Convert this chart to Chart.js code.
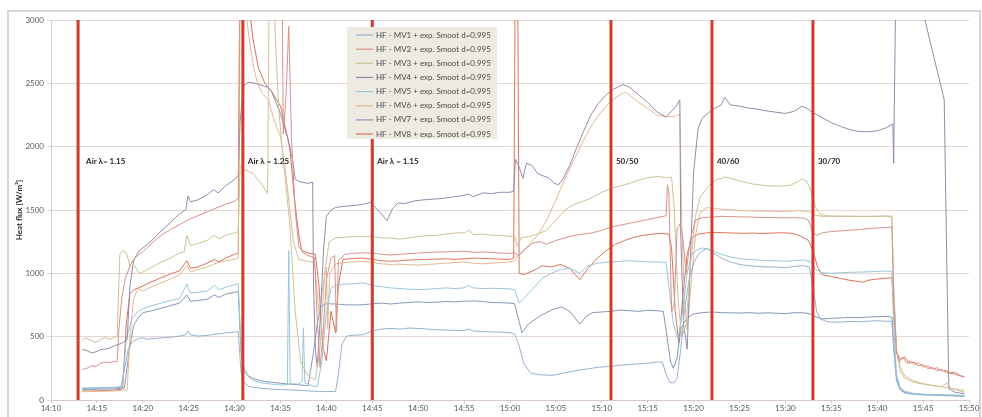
<!DOCTYPE html>
<html><head><meta charset="utf-8">
<style>html,body{margin:0;padding:0;background:#fff;overflow:hidden}canvas{display:block}</style>
<script src="https://cdn.jsdelivr.net/npm/chart.js@4.4.1/dist/chart.umd.min.js"></script>
</head><body>
<canvas id="c" width="982" height="417"></canvas>
<script>
// time axis: minutes after 14:00
const xTickLabels = ['14:10','14:15','14:20','14:25','14:30','14:35','14:40','14:45','14:50','14:55','15:00','15:05','15:10','15:15','15:20','15:25','15:30','15:35','15:40','15:45','15:50'];
const yTickLabels = ['0','500','1000','1500','2000','2500','3000'];
const seriesNames = ['HF - MV1 + exp. Smoot d=0.995','HF - MV2 + exp. Smoot d=0.995','HF - MV3 + exp. Smoot d=0.995','HF - MV4 + exp. Smoot d=0.995','HF - MV5 + exp. Smoot d=0.995','HF - MV6 + exp. Smoot d=0.995','HF - MV7 + exp. Smoot d=0.995','HF - MV8 + exp. Smoot d=0.995'];
const seriesColors = ['#98b2d2','#d9928a','#cdc398','#9789ad','#98c7da','#e3b993','#8898b6','#dc735a'];
const phaseTimes = [12.95, 30.9, 45, 71, 82, 93];
const phaseLabels = ['Air λ= 1.15','Air λ = 1.25','Air λ = 1.15','50/50','40/60','30/70'];
const phaseLabelLevel = 1880;

const mv1 = [[13.4,90],[14,88],[15,92],[16,95],[17,98],[17.6,100],[18,240],[18.4,400],[18.9,460],[19.5,485],[20,490],[20.5,480],[21,485],[22,490],[23,495],[24,505],[24.7,515],[24.9,545],[25.2,515],[26,505],[27,510],[28,520],[28.7,525],[29,530],[30,535],[30.4,540],[30.7,220],[31,140],[31.5,110],[32,100],[33,92],[34,86],[35,82],[36,80],[37,76],[38,72],[39,68],[40,66],[41,68],[41.3,200],[41.7,440],[42.2,505],[43,512],[44,515],[45,545],[46,560],[47,565],[48,560],[49,568],[50,565],[51,560],[52,555],[53,552],[54,550],[55,548],[55.5,560],[56,545],[57,540],[58,538],[59,535],[60,532],[60.5,520],[60.9,450],[61.5,290],[62.2,215],[63,200],[64.7,195],[66,215],[67.6,237],[69.8,260],[71,265],[72,275],[73,280],[74,285],[75,290],[76,300],[76.6,300],[77,200],[77.4,140],[77.8,134],[78.2,170],[78.6,400],[79,700],[79.5,950],[80,1080],[80.5,1150],[81,1180],[81.5,1200],[82,1170],[83,1120],[84,1090],[85,1070],[86,1060],[87,1055],[88,1050],[89,1050],[90,1045],[91,1055],[92,1060],[92.6,1050],[93,900],[93.4,700],[93.8,640],[94.5,620],[95,615],[96,615],[97,620],[98,618],[99,622],[100,625],[101,622],[101.6,620],[101.8,400],[102.1,150],[102.5,80],[103,55],[104,45],[105,40],[106,38],[107,35],[108,33],[109,30],[109.5,28]];
const mv2 = [[13.4,240],[13.9,250],[14.4,270],[14.9,265],[15.4,290],[15.9,300],[16.4,295],[16.9,305],[17.2,300],[17.4,560],[17.7,800],[18.1,960],[18.6,1060],[19.1,1120],[19.6,1150],[20,1170],[21,1240],[22,1300],[23,1345],[24,1385],[25,1425],[26,1455],[27,1485],[28,1515],[29,1545],[30,1570],[30.4,1590],[30.55,3100],[35.2,3100],[35.3,2100],[35.6,2400],[35.9,2950],[36.2,2050],[36.6,1500],[37,1210],[37.5,1160],[38,1140],[38.7,1125],[39,650],[39.3,260],[39.6,480],[40,950],[40.5,1120],[40.9,1140],[41.1,540],[41.3,1100],[42,1150],[43,1158],[44,1162],[45,1160],[46,1150],[47,1145],[48,1150],[49,1155],[50,1160],[51,1165],[52,1168],[53,1170],[54,1172],[55,1175],[56,1165],[57,1168],[58,1165],[59,1160],[60,1158],[60.5,1160],[61,1140],[61.8,1200],[62.5,1240],[63.3,1250],[64,1230],[65,1260],[66,1280],[67,1300],[68,1310],[69,1320],[70,1340],[71,1365],[72,1380],[73,1395],[74,1410],[75,1425],[76,1440],[77,1455],[77.15,1700],[77.3,1650],[77.6,700],[77.9,760],[78.2,1350],[78.5,1390],[78.8,1300],[79.2,1000],[79.6,1250],[80.2,1420],[81,1440],[82,1445],[83,1450],[84,1448],[85,1446],[86,1445],[87,1442],[88,1440],[89,1440],[90,1438],[91,1440],[92,1435],[92.5,1420],[93,1320],[93.5,1300],[94,1320],[95,1330],[96,1335],[97,1340],[98,1345],[99,1352],[100,1358],[101,1362],[101.6,1365],[101.8,800],[102.1,380],[102.4,300],[102.8,340],[103.2,290],[103.6,310],[104,280],[104.5,295],[105,260],[105.5,270],[106,245],[106.5,255],[107,230],[107.5,235],[108,215],[108.5,220],[109,195],[109.5,180]];
const mv3 = [[13.4,470],[13.8,490],[14.3,475],[14.8,455],[15.3,470],[15.8,495],[16.3,480],[16.8,490],[17.2,500],[17.5,1150],[17.8,1180],[18.2,1165],[18.6,1060],[19.2,1050],[19.6,1000],[20,1010],[21,1050],[22,1090],[23,1120],[24,1160],[24.5,1170],[24.8,1300],[25.2,1220],[26,1235],[27,1260],[27.8,1300],[28.3,1270],[29,1300],[30,1320],[30.4,1330],[30.6,1850],[31,1820],[32,1790],[33,1700],[33.6,1630],[33.75,3100],[34.3,3100],[34.8,2300],[35.3,1900],[36,1400],[36.6,700],[37.2,300],[38,190],[38.8,160],[39.3,400],[39.8,1000],[40.3,1250],[41,1280],[42,1285],[43,1290],[44,1290],[45,1290],[46,1280],[47,1278],[48,1270],[49,1280],[50,1290],[51,1298],[52,1300],[53,1310],[54,1318],[55,1320],[55.6,1340],[56,1305],[57,1310],[58,1300],[59,1300],[60,1290],[60.5,1300],[60.8,1210],[61.2,1280],[62,1290],[63,1310],[64,1340],[65,1420],[66,1500],[67,1545],[68,1570],[69,1600],[70,1640],[71,1670],[72,1690],[73,1710],[74,1735],[75,1755],[76,1765],[77,1755],[77.6,1760],[77.9,1500],[78.3,800],[78.7,500],[79.2,600],[79.7,1100],[80.2,1450],[80.7,1600],[81.5,1680],[82.5,1740],[83.5,1760],[84.5,1740],[85.5,1720],[86.5,1705],[87.5,1695],[88.5,1690],[89.5,1688],[90.5,1695],[91.3,1720],[91.8,1745],[92.3,1730],[92.8,1650],[93.3,1520],[93.8,1465],[94.5,1455],[96,1450],[98,1448],[100,1450],[101,1452],[101.6,1445],[101.8,900],[102.1,400],[102.5,230],[103,170],[104,140],[105,125],[106,115],[107,105],[107.6,135],[108,95],[109,70],[109.5,62]];
const mv4 = [[13.4,400],[13.9,390],[14.4,372],[14.9,380],[15.4,398],[15.9,402],[16.4,410],[16.9,428],[17.4,440],[17.9,455],[18.3,480],[18.6,900],[19,1100],[19.5,1170],[20,1200],[21,1260],[22,1335],[23,1400],[24,1470],[24.7,1505],[24.9,1610],[25.2,1565],[26,1580],[27,1620],[27.7,1660],[28.2,1635],[29,1690],[30,1740],[30.4,1775],[30.6,2200],[31,2480],[31.5,2510],[32.5,2495],[33.5,2470],[34,2440],[35,2260],[35.8,2060],[36.3,1900],[36.6,1745],[37,1725],[38,1710],[38.5,1720],[38.6,900],[38.8,400],[39,260],[39.3,600],[39.7,1200],[40,1450],[40.5,1500],[41,1520],[42,1530],[43,1535],[44,1545],[44.8,1560],[45.3,1520],[46,1470],[46.6,1415],[47.2,1510],[47.8,1555],[48.5,1550],[49.5,1570],[50.5,1580],[51.5,1585],[52.5,1590],[53.5,1600],[54.5,1610],[55.5,1625],[56,1605],[57,1635],[58,1630],[59,1640],[60,1640],[60.4,1650],[60.6,1900],[61.0,1840],[61.4,1750],[61.8,1870],[62.4,1850],[63,1790],[63.6,1770],[64.2,1755],[64.8,1710],[65.3,1700],[65.8,1750],[66.5,1850],[67.2,1980],[68,2120],[68.8,2250],[69.6,2340],[70.5,2410],[71.3,2455],[72.3,2490],[73,2470],[74,2410],[75,2350],[76,2275],[77,2235],[77.6,2280],[78.1,2320],[78.5,2370],[78.6,1300],[78.9,600],[79.3,400],[79.6,1000],[80,1800],[80.5,2150],[81,2230],[82,2290],[83,2330],[83.4,2390],[84,2330],[85,2320],[86,2305],[87,2295],[88,2282],[89,2272],[90,2262],[91,2280],[91.8,2320],[92.4,2300],[93,2270],[94,2230],[95,2190],[96,2160],[97,2135],[98,2120],[99,2118],[100,2125],[101,2150],[101.7,2180],[101.8,1870],[101.85,2250],[102,3100],[105.2,3000],[107.3,2370],[107.8,90],[108.5,60],[109.5,50]];
const mv5 = [[13.4,95],[15,98],[17,100],[17.8,110],[18.2,480],[18.8,640],[19.5,700],[20,720],[21,745],[22,765],[23,785],[24,800],[24.8,915],[25.2,845],[26,850],[27,860],[27.8,905],[28.3,870],[29,890],[30,910],[30.4,920],[30.7,420],[31,260],[31.5,185],[32,155],[33,135],[34,125],[35,118],[35.75,122],[35.9,1180],[36.05,130],[37,125],[37.35,150],[37.5,570],[37.65,135],[38.5,112],[39,105],[39.5,300],[40,700],[40.5,880],[41,905],[42,915],[43,918],[44,925],[45,905],[46,895],[47,885],[48,880],[49,875],[50,872],[51,875],[52,880],[53,885],[54,880],[55,885],[55.5,905],[56,885],[57,880],[58,882],[59,880],[60,878],[60.5,870],[61,765],[61.5,800],[62.5,880],[63.5,960],[64.5,1000],[65.5,1030],[66.5,1040],[67.6,1000],[68.5,1060],[69.5,1080],[71,1090],[72,1095],[73,1100],[74,1095],[75,1090],[76,1090],[77,1085],[77.3,900],[77.8,600],[78.3,480],[78.8,700],[79.3,1000],[79.8,1150],[80.5,1190],[81,1200],[82,1180],[83,1150],[84,1130],[85,1115],[86,1110],[87,1105],[88,1100],[89,1100],[90,1095],[91,1100],[92,1105],[92.8,1090],[93.3,1030],[94,1005],[95,1000],[96,1005],[97,1008],[98,1010],[99,1012],[100,1015],[101,1018],[101.6,1015],[101.8,600],[102.1,200],[102.5,100],[103,70],[104,52],[105,46],[106,44],[107,42],[108,40],[109,38],[109.5,36]];
const mv6 = [[13.4,65],[15,68],[17,72],[18.3,80],[18.6,500],[19,800],[19.5,880],[20,860],[21,895],[22,925],[23,955],[24,985],[24.8,1060],[25.2,1010],[26,1030],[27,1050],[28,1080],[29,1100],[30,1110],[30.4,1120],[30.6,3100],[31.2,3100],[31.5,2900],[32,2650],[32.5,2500],[33,2420],[33.7,2370],[34.2,2230],[35,2080],[35.5,1830],[36,1520],[36.4,1250],[37,1110],[38,1095],[38.7,1085],[39.2,700],[39.6,880],[40,1050],[40.15,560],[40.35,1000],[41,1075],[42,1085],[43,1090],[44,1095],[45,1085],[46,1075],[47,1070],[48,1072],[49,1068],[50,1065],[51,1070],[52,1075],[53,1080],[54,1085],[55,1090],[56,1080],[57,1075],[58,1080],[59,1085],[60,1090],[60.5,1100],[61,1150],[62,1220],[63,1300],[64,1420],[65,1580],[66,1750],[67,1900],[68,2050],[69,2180],[70,2280],[71,2360],[72,2410],[72.5,2430],[73,2410],[74,2350],[75,2300],[76,2250],[77,2235],[78,2240],[78.5,2260],[78.7,1400],[79,800],[79.3,560],[79.7,900],[80.2,1300],[80.7,1480],[81.5,1520],[82.5,1510],[83.5,1505],[84.5,1500],[85.5,1495],[86.5,1492],[87.5,1490],[88.5,1490],[89.5,1488],[90.5,1490],[91.5,1495],[92.5,1490],[93.2,1460],[94,1450],[95,1450],[97,1452],[99,1450],[101,1452],[101.6,1450],[101.8,850],[102.1,400],[102.5,260],[103,190],[104,150],[105,130],[106,115],[107,105],[108,92],[109,80],[109.5,75]];
const mv7 = [[13.4,82],[15,85],[17,88],[18,95],[18.5,380],[19,590],[19.5,650],[20,690],[21,705],[22,725],[23,745],[24,765],[24.8,830],[25.2,780],[26,785],[27,795],[27.8,830],[28.3,810],[29,835],[30,850],[30.4,855],[30.7,380],[31,230],[31.5,190],[32,170],[33,150],[34,140],[35,132],[36,125],[37,120],[38,112],[38.6,380],[39,600],[39.4,740],[40,760],[41,758],[42,752],[43,750],[44,752],[45,760],[46,765],[47,758],[48,765],[49,770],[50,775],[51,770],[52,772],[53,778],[54,775],[55,780],[56,782],[57,778],[58,770],[59,768],[60,765],[60.5,760],[61,620],[61.3,530],[62,600],[63.2,660],[64.5,710],[65.6,735],[66.5,700],[67.6,600],[68.3,660],[69,690],[70,695],[71,700],[72,710],[73,705],[74,700],[75,708],[76,705],[76.7,700],[77.1,500],[77.5,300],[77.8,250],[78.2,330],[78.6,560],[79.2,640],[80,680],[81,690],[82,695],[83,690],[84,688],[85,686],[86,690],[87,685],[88,688],[89,685],[90,682],[91,690],[92,688],[92.7,680],[93.2,660],[94,640],[95,645],[96,648],[97,652],[98,650],[99,655],[100,658],[101,660],[101.6,655],[101.8,450],[102.1,180],[102.5,90],[103,60],[104,48],[105,42],[106,40],[107,38],[108,36],[109,34],[109.5,32]];
const mv8 = [[13.4,70],[15,72],[17,78],[17.8,90],[18.2,600],[18.6,840],[19,870],[20,900],[21,935],[22,965],[23,995],[24,1020],[24.8,1100],[25.2,1040],[26,1050],[27,1080],[27.8,1110],[28.3,1090],[29,1120],[30,1150],[30.4,1160],[30.55,3100],[31.6,3100],[32,2850],[32.6,2620],[33.3,2500],[34,2440],[35,2320],[35.5,2160],[36,2000],[36.5,1600],[37,1300],[37.3,1180],[38,1160],[38.8,1150],[39.2,900],[39.6,420],[40,310],[40.5,700],[41,530],[41.3,900],[41.8,1110],[42.5,1115],[43,1118],[44,1120],[45,1110],[46,1100],[47,1095],[48,1100],[49,1105],[50,1108],[51,1110],[52,1112],[53,1115],[54,1110],[55,1115],[56,1120],[57,1118],[58,1115],[59,1112],[60,1110],[60.4,1120],[60.55,3100],[60.85,3100],[61.0,1000],[61.5,990],[62.5,1020],[63.5,1060],[64.5,1050],[65.5,1070],[66.5,1040],[67.6,950],[68.5,1040],[69.5,1120],[70.5,1180],[71.5,1230],[72.5,1260],[73.5,1285],[74.5,1300],[75.5,1310],[76.5,1315],[77.3,1310],[77.6,1200],[78,700],[78.4,450],[78.8,800],[79.3,1150],[79.8,1280],[80.5,1310],[81.5,1320],[82.5,1322],[83.5,1320],[84.5,1318],[85.5,1316],[86.5,1318],[87.5,1315],[88.5,1318],[89.5,1320],[90.5,1318],[91.5,1300],[92.5,1260],[93,1180],[93.5,1050],[94,990],[95,975],[96,960],[97,945],[98,935],[98.5,930],[99,945],[100,955],[101,962],[101.6,965],[101.8,700],[102.1,380],[102.5,320],[103,340],[103.5,290],[104,300],[104.5,270],[105,280],[105.5,250],[106,255],[106.5,235],[107,240],[107.5,220],[108,210],[108.5,205],[109,190],[109.5,185]];

const seriesData = [mv1, mv2, mv3, mv4, mv5, mv6, mv7, mv8];

const datasets = [];
phaseTimes.forEach(t => {
  datasets.push({ label: '', isMarker: true, data: [{x:t, y:0}, {x:t, y:3000}],
    borderColor: '#d23b2b', borderWidth: 3, pointRadius: 0, order: 0 });
});
seriesData.forEach((s, i) => {
  datasets.push({ label: seriesNames[i], data: s.map(p => ({x:p[0], y:p[1]})),
    borderColor: seriesColors[i], borderWidth: 1, pointRadius: 0, tension: 0, order: 1 });
});

const decor = {
  id: 'decor',
  beforeDraw(chart) {
    const ctx = chart.ctx;
    ctx.save();
    ctx.fillStyle = '#fff';
    ctx.fillRect(0, 0, chart.width, chart.height);
    ctx.strokeStyle = '#d6d6d6';
    ctx.lineWidth = 2;
    ctx.beginPath();
    ctx.moveTo(8, 417); ctx.lineTo(8, 11); ctx.lineTo(980, 11); ctx.lineTo(980, 417);
    ctx.stroke();
    ctx.restore();
  },
  afterDatasetsDraw(chart) {
    const ctx = chart.ctx;
    const xs = chart.scales.x, ys = chart.scales.y;
    ctx.save();
    ctx.font = 'bold 8px Lato';
    ctx.fillStyle = '#1f1f1f';
    ctx.textBaseline = 'middle';
    ctx.textAlign = 'left';
    phaseTimes.forEach((t, i) => {
      ctx.fillText(phaseLabels[i], xs.getPixelForValue(t) + (i === 0 ? 8 : 5), ys.getPixelForValue(phaseLabelLevel));
    });
    const bx = 347, by = 27, bw = 150, bh = 112;
    ctx.fillStyle = '#edebe1';
    ctx.fillRect(bx, by, bw, bh);
    ctx.font = '8px Lato';
    const items = chart.data.datasets.filter(d => !d.isMarker);
    items.forEach((d, i) => {
      const yy = by + 8 + i * 14.15;
      ctx.strokeStyle = d.borderColor;
      ctx.lineWidth = 1.2;
      ctx.beginPath(); ctx.moveTo(bx + 9, yy); ctx.lineTo(bx + 26, yy); ctx.stroke();
      ctx.fillStyle = '#4a4a4a';
      ctx.fillText(d.label, bx + 29, yy);
    });
    ctx.restore();
  }
};

Chart.defaults.font.family = 'Lato';
new Chart(document.getElementById('c'), {
  type: 'line',
  data: { datasets },
  options: {
    responsive: false, animation: false, devicePixelRatio: 1,
    layout: { padding: { top: 20, right: 13, bottom: 0, left: 0 } },
    plugins: { legend: { display: false }, tooltip: { enabled: false } },
    scales: {
      x: { type: 'linear', min: 10, max: 110,
        ticks: { stepSize: 5, autoSkip: false, maxRotation: 0, padding: 1, color: '#595959', font: { size: 8 },
          callback: (v, i) => xTickLabels[i] },
        grid: { drawOnChartArea: false, drawTicks: true, tickLength: 3, color: '#d8c8c8' },
        border: { color: '#d8c8c8' },
        afterFit: s => { s.height = 17; } },
      y: { type: 'linear', min: 0, max: 3000,
        ticks: { stepSize: 500, padding: 3, color: '#595959', font: { size: 8 },
          callback: (v, i) => yTickLabels[i] },
        grid: { color: '#e6d6d6', tickLength: 4 },
        border: { color: '#cfcfcf' },
        title: { display: true, text: 'Heat flux [W/m²]', color: '#262626', font: { size: 8, weight: 'bold' }, padding: { top: 15, bottom: 0 } },
        afterFit: s => { s.width = 51; } }
    }
  },
  plugins: [decor]
});
</script>
</body></html>
